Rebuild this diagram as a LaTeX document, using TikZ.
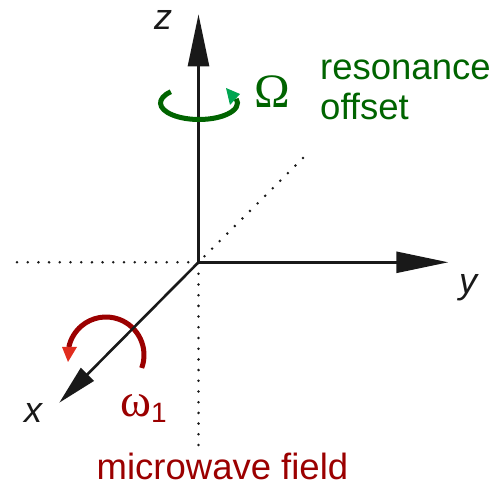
\documentclass[tikz,border=0pt]{standalone}
\usepackage{fontspec}
\setmainfont{Liberation Sans}
\newfontfamily\greekfont{Liberation Serif}
\usetikzlibrary{arrows.meta}
\definecolor{dgreen}{RGB}{0,100,0}
\definecolor{lgreen}{RGB}{0,166,81}
\definecolor{dred}{RGB}{155,0,0}
\definecolor{bred}{RGB}{225,45,30}
\definecolor{axisblack}{RGB}{25,25,25}
\begin{document}
\begin{tikzpicture}[x=1pt,y=1pt,
  axis/.style={line width=2.6pt, color=axisblack},
  dotline/.style={line width=2.8pt, line cap=round, dash pattern=on 0pt off 10.7pt, color=axisblack},
  lbl/.style={font=\fontsize{36}{36}\selectfont\itshape, inner sep=0pt, text=axisblack},
  txt/.style={font=\fontsize{36.5}{36.5}\selectfont, inner sep=0pt},
  rot/.style={line width=5pt}]
\useasboundingbox (0,0) rectangle (497,486);
\coordinate (O) at (198.5,223.7);
\coordinate (zt) at (198.5,471.7);
\coordinate (yt) at (448.3,223.7);
\coordinate (xt) at (59.3,83.3);
\coordinate (dl) at (17,223.7);
\coordinate (dd) at (198.5,41);
\coordinate (dg) at (303,328);
\coordinate (gc) at (199,383);
\coordinate (rc) at (106,131);
% dotted guide lines
\draw[dotline] (dl) -- (O);
\draw[dotline] (dd) -- (O);
\draw[dotline] (dg) -- (O);
% red rotation arc about x
\draw[rot, dred] ([shift={(-20:38)}]rc) arc[start angle=-20, end angle=168, radius=38];
\fill[bred] (62,139) -- (77,139) -- (68,124) -- cycle;
% axes
\draw[axis,-{Triangle[length=52pt,width=21pt]}] (O) -- (zt);
\draw[axis,-{Triangle[length=52pt,width=21pt]}] (O) -- (yt);
\draw[axis,-{Triangle[length=40pt,width=18pt]}] (O) -- (xt);
% green rotation arc about z
\draw[rot, dgreen] ([shift={(137:38.5 and 16.5)}]gc) arc[start angle=137, end angle=375, x radius=38.5, y radius=16.5];
\fill[lgreen] (226,398) -- (240,392) -- (230,381) -- cycle;
% labels
\node[lbl] (zl) at (163,466) {z};
\node[lbl] (yl) at (468,198.5) {y};
\node[lbl] (xl) at (33,73.5) {x};
\node[font=\greekfont\fontsize{48}{48}\selectfont, text=dgreen, inner sep=0pt] (Om) at (272.5,394) {Ω};
\node[txt, text=dgreen, anchor=base west] (res1) at (320,406) {resonance};
\node[txt, text=dgreen, anchor=base west] (res2) at (320,366) {offset};
\node[txt, text=dred, anchor=base] (mw) at (222.5,6.5) {microwave field};
\node[text=dred, inner sep=0pt, anchor=base west] (w1) at (120,69) {{\greekfont\fontsize{47}{47}\selectfont ω}\raisebox{-6pt}{\fontsize{28}{28}\selectfont 1}};
\end{tikzpicture}
\end{document}
